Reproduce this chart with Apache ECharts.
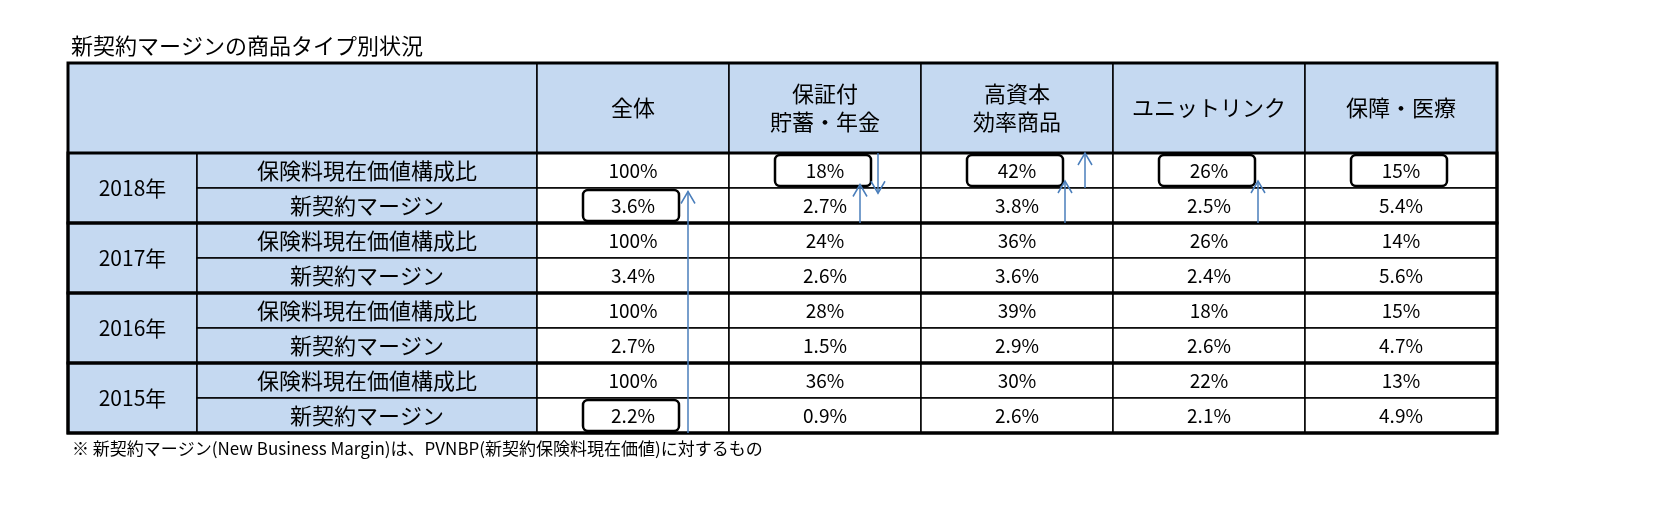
<!DOCTYPE html>
<html><head><meta charset="utf-8">
<script src="https://cdn.jsdelivr.net/npm/echarts@6/dist/echarts.min.js"></script>
<style>html,body{margin:0;background:#fff}#c{width:1666px;height:517px}</style>
</head><body><div id="c"></div>
<script>
// data
var years = ['2018年', '2017年', '2016年', '2015年'];
var rowLabels = ['保険料現在価値構成比', '新契約マージン'];
var products = ['全体', '保証付\n貯蓄・年金', '高資本\n効率商品', 'ユニットリンク', '保障・医療'];
var share2018 = ['100%', '18%', '42%', '26%', '15%'];
var margin2018 = ['3.6%', '2.7%', '3.8%', '2.5%', '5.4%'];
var share2017 = ['100%', '24%', '36%', '26%', '14%'];
var margin2017 = ['3.4%', '2.6%', '3.6%', '2.4%', '5.6%'];
var share2016 = ['100%', '28%', '39%', '18%', '15%'];
var margin2016 = ['2.7%', '1.5%', '2.9%', '2.6%', '4.7%'];
var share2015 = ['100%', '36%', '30%', '22%', '13%'];
var margin2015 = ['2.2%', '0.9%', '2.6%', '2.1%', '4.9%'];
// highlighted cells [table column, table row] (row 0 = header)
var boxed = [[2, 2], [3, 1], [4, 1], [5, 1], [6, 1], [2, 8]];

// layout
var colEdges = [0, 129, 469, 661, 853, 1045, 1237, 1429];
var rowEdges = [0, 90, 125, 160, 195, 230, 265, 300, 335, 370];
var head = '#c5d9f1';

var body = [share2018, margin2018, share2017, margin2017, share2016, margin2016, share2015, margin2015];
var cells = [];
cells.push({value: [0, 0, 2, 1], text: '', fill: head});
products.forEach(function (p, i) { cells.push({value: [i + 2, 0, i + 3, 1], text: p, fill: head, size: 22}); });
years.forEach(function (y, g) {
    cells.push({value: [0, 1 + g * 2, 1, 3 + g * 2], text: y, fill: head, size: 21});
    rowLabels.forEach(function (l, k) {
        cells.push({value: [1, 1 + g * 2 + k, 2, 2 + g * 2 + k], text: l, fill: head, size: 22});
    });
});
body.forEach(function (r, ri) {
    r.forEach(function (v, ci) { cells.push({value: [ci + 2, ri + 1, ci + 3, ri + 2], text: v, fill: '#fff', size: 19}); });
});

function rect(api, c0, r0, c1, r1) {
    var a = api.coord([colEdges[c0], rowEdges[r0]]);
    var b = api.coord([colEdges[c1], rowEdges[r1]]);
    return {x: a[0], y: a[1], w: b[0] - a[0], h: b[1] - a[1]};
}
function rowY(api, e) {
    var i = Math.floor(e);
    return api.coord([0, rowEdges[i] + (e - i) * 35])[1];
}

var chart = echarts.init(document.getElementById('c'));
chart.setOption({
    title: {text: '新契約マージンの商品タイプ別状況', left: 66, top: 30,
        textStyle: {fontSize: 22, fontWeight: 'normal', color: '#000', fontFamily: 'Noto Sans CJK JP'}},
    graphic: [{type: 'text', left: 72, top: 440,
        style: {text: '※ 新契約マージン(New Business Margin)は、PVNBP(新契約保険料現在価値)に対するもの',
            fontSize: 17, fill: '#000', fontFamily: 'Noto Sans CJK JP'}}],
    grid: {left: 68, top: 63, width: 1429, height: 370},
    xAxis: {type: 'value', min: 0, max: 1429, show: false},
    yAxis: {type: 'value', min: 0, max: 370, inverse: true, show: false},
    series: [{
        type: 'custom', data: cells,
        renderItem: function (params, api) {
            var d = cells[params.dataIndex], v = d.value;
            var r = rect(api, v[0], v[1], v[2], v[3]);
            return {type: 'group', children: [
                {type: 'rect', shape: {x: r.x, y: r.y, width: r.w, height: r.h},
                    style: {fill: d.fill, stroke: '#000', lineWidth: 1.5}},
                {type: 'text', style: {text: d.text, x: r.x + r.w / 2, y: r.y + r.h / 2, align: 'center',
                    verticalAlign: 'middle', fontSize: d.size || 20, lineHeight: 28, fill: '#000',
                    fontFamily: 'Noto Sans CJK JP'}}
            ]};
        }
    }, {
        type: 'custom', data: years.map(function (y, g) { return [g]; }),
        renderItem: function (params, api) {
            var g = params.dataIndex;
            var r = rect(api, 0, 1 + g * 2, 7, 3 + g * 2);
            return {type: 'rect', shape: {x: r.x, y: r.y, width: r.w, height: r.h},
                style: {fill: 'none', stroke: '#000', lineWidth: 3}};
        }
    }, {
        type: 'custom', data: [[0]],
        renderItem: function (params, api) {
            var r = rect(api, 0, 0, 7, 9);
            return {type: 'rect', shape: {x: r.x, y: r.y, width: r.w, height: r.h},
                style: {fill: 'none', stroke: '#000', lineWidth: 3}};
        }
    }, {
        type: 'custom', data: boxed,
        renderItem: function (params, api) {
            var b = boxed[params.dataIndex];
            var r = rect(api, b[0], b[1], b[0] + 1, b[1] + 1);
            var cx = r.x + r.w / 2;
            return {type: 'rect', shape: {x: cx - 50, y: r.y + 2, width: 96, height: r.h - 4, r: 5},
                style: {fill: 'none', stroke: '#000', lineWidth: 2.5}};
        }
    }, {
        // arrows: [col, x-offset in cell, from row edge, to row edge]
        type: 'custom', data: [[2, 151, 9, 2.1], [3, 131, 3, 1.9], [3, 149, 1, 2.15], [4, 144, 3, 1.8], [4, 164, 2, 1.0], [5, 145, 3, 1.8]],
        renderItem: function (params, api) {
            var a = api.value(0), off = api.value(1), f = api.value(2), t = api.value(3);
            var x = api.coord([colEdges[a] + off, 0])[0];
            var yf = rowY(api, f), yt = rowY(api, t);
            var dir = yt < yf ? 1 : -1;
            return {type: 'group', children: [
                {type: 'line', shape: {x1: x, y1: yf, x2: x, y2: yt}, style: {stroke: '#4a7ebb', lineWidth: 1.5}},
                {type: 'polyline', shape: {points: [[x - 7, yt + 12 * dir], [x, yt], [x + 7, yt + 12 * dir]]},
                    style: {stroke: '#4a7ebb', lineWidth: 1.5, fill: 'none'}}
            ]};
        }
    }]
});
</script></body></html>
